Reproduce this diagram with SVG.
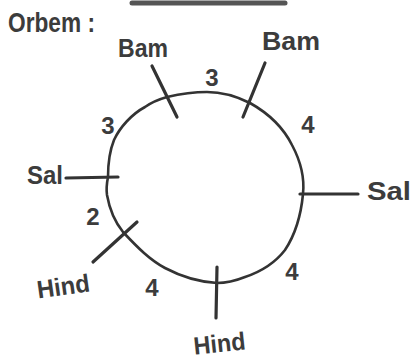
<svg xmlns="http://www.w3.org/2000/svg" width="412" height="360" viewBox="0 0 412 360">
<style>
.ink{fill:none;stroke:#333333;stroke-linecap:round;stroke-linejoin:round}
.ring{stroke-width:2.6}
.tick{stroke-width:3.2}
.t{font-family:"Liberation Sans","DejaVu Sans",sans-serif;fill:#3c3c3c;font-weight:bold}
.lbl{font-size:25px}
.num{font-size:24px}
</style>
<rect width="412" height="360" fill="#ffffff"/>
<line x1="132" y1="3" x2="285" y2="3" stroke="#555" stroke-width="5" stroke-linecap="round"/>
<g id="title"><text class="t" x="8" y="32" font-size="27" textLength="87" lengthAdjust="spacingAndGlyphs">Orbem :</text></g>
<g id="connectors">
<path class="ink ring" d="M108,177 C108,165 110,150 114,140 C120,127 132,114 145,107 C152,102 160,99 167,97 C180,94 195,92 207,92 C222,92 238,97 250,103 C266,112 282,125 292,145 C300,160 305,175 303,194 C301,215 295,235 285,250 C275,263 260,272 245,277 C235,281 226,283 217,283 C200,282 182,277 165,268 C150,260 138,248 123,232 C115,222 110,212 107,195 C106,188 107,182 108,177 Z"/>
<text class="t num" x="212" y="86" text-anchor="middle">3</text>
<text class="t num" x="108" y="134" text-anchor="middle">3</text>
<text class="t num" x="308" y="133" text-anchor="middle">4</text>
<text class="t num" x="93" y="225" text-anchor="middle">2</text>
<text class="t num" x="152" y="296" text-anchor="middle">4</text>
<text class="t num" x="292" y="280" text-anchor="middle">4</text>
</g>
<g id="bam-left">
<line class="ink tick" x1="152" y1="66" x2="177" y2="117"/>
<text class="t lbl" x="143" y="57" text-anchor="middle" textLength="50" lengthAdjust="spacingAndGlyphs">Bam</text>
</g>
<g id="bam-right">
<line class="ink tick" x1="265" y1="63" x2="243" y2="117"/>
<text class="t lbl" x="291" y="50" text-anchor="middle" textLength="58" lengthAdjust="spacingAndGlyphs">Bam</text>
</g>
<g id="sal-left">
<line class="ink tick" x1="66" y1="178" x2="118" y2="177"/>
<text class="t lbl" x="45" y="184" text-anchor="middle" textLength="36" lengthAdjust="spacingAndGlyphs">Sal</text>
</g>
<g id="sal-right">
<line class="ink tick" x1="300" y1="194" x2="358" y2="194"/>
<text class="t lbl" x="389" y="200" text-anchor="middle" textLength="44" lengthAdjust="spacingAndGlyphs">Sal</text>
</g>
<g id="hind-left">
<line class="ink tick" x1="93" y1="262" x2="137" y2="222"/>
<text class="t lbl" x="63" y="295" text-anchor="middle" textLength="53" lengthAdjust="spacingAndGlyphs" transform="rotate(-8 63 285)">Hind</text>
</g>
<g id="hind-bottom">
<line class="ink tick" x1="217" y1="267" x2="216" y2="318"/>
<text class="t lbl" x="219" y="352" text-anchor="middle" textLength="52" lengthAdjust="spacingAndGlyphs" transform="rotate(-6 219 340)">Hind</text>
</g>
</svg>
